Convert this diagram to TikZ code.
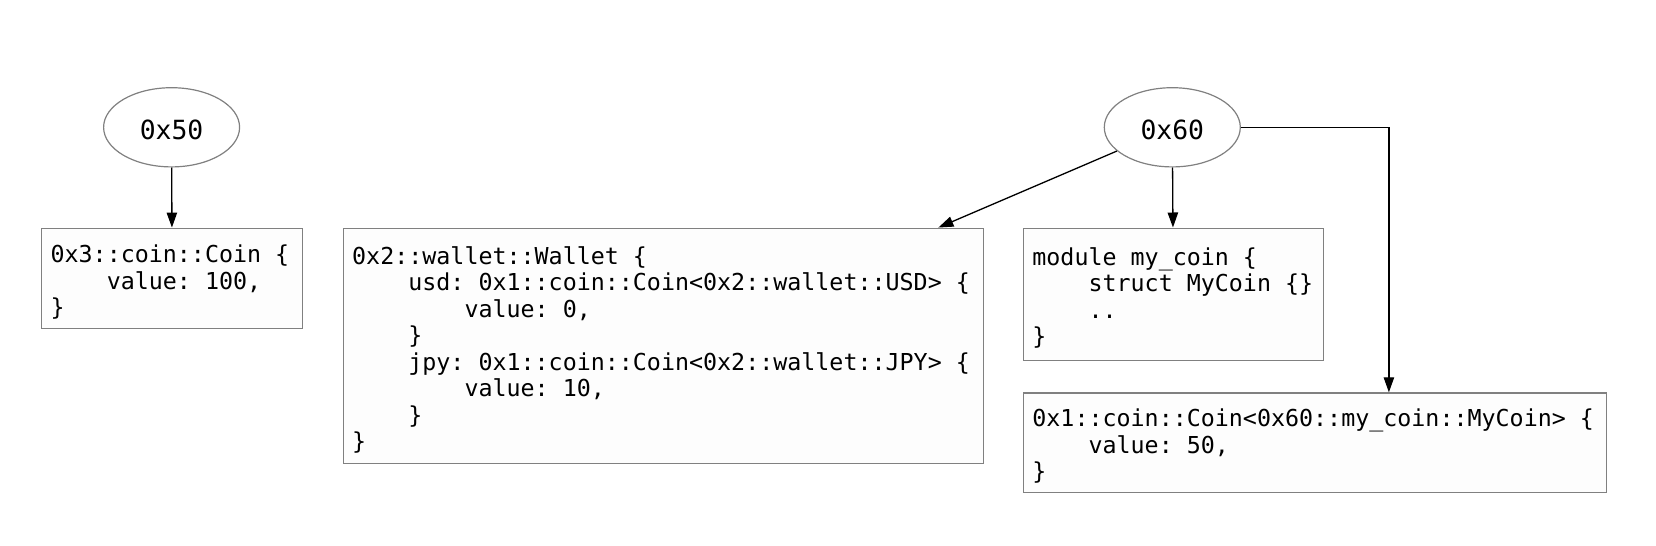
\documentclass[tikz,border=0pt]{standalone}
\usepackage{fontspec}
\newfontfamily\codefont{DejaVu Sans Mono}
\usetikzlibrary{shapes.geometric,arrows.meta}
\definecolor{bordergray}{HTML}{808080}
\definecolor{boxfill}{HTML}{FDFDFD}
\newcommand\I{\phantom{0000}}
\newcommand\firstln{\spaceskip=0.602em\relax\xspaceskip=0.602em\relax\rule{0pt}{12.8pt}}
\begin{document}
\begin{tikzpicture}[x=0.5pt,y=-0.5pt,
  addr/.style={ellipse, draw=bordergray, fill=white, line width=0.6pt, inner sep=0pt,
    minimum width=68pt, minimum height=39.6pt, text height=11.7pt, text depth=0pt,
    font=\codefont\fontsize{13.2pt}{15pt}\selectfont},
  codebox/.style={rectangle, draw=bordergray, fill=boxfill, line width=0.6pt,
    inner xsep=4.5pt, inner ysep=0pt, align=left,
    font=\codefont\fontsize{11.66pt}{13.25pt}\selectfont},
  link/.style={-{Triangle[length=7.5pt,width=5.2pt]}, line width=0.65pt, black}]
\useasboundingbox (0,0) rectangle (1656,546);

\node[addr] (o50) at (171.6,127.3) {0x50};
\node[addr] (o60) at (1172.3,127.3) {0x60};

\node[codebox, text width=121.5pt, minimum height=50.15pt] (c3) at (172.1,278.3)
  {\firstln 0x3::coin::Coin \{\\\I value: 100,\\\}};

\node[codebox, text width=311pt, minimum height=117.75pt] (wallet) at (663.2,345.9)
  {\firstln 0x2::wallet::Wallet \{\\
   \I usd: 0x1::coin::Coin<0x2::wallet::USD> \{\\
   \I\I value: 0,\\
   \I \}\\
   \I jpy: 0x1::coin::Coin<0x2::wallet::JPY> \{\\
   \I\I value: 10,\\
   \I \}\\
   \}};

\node[codebox, text width=141pt, minimum height=66pt] (module) at (1173.4,294.1)
  {\firstln module my\_coin \{\\\I struct MyCoin \{\}\\\I ..\\\}};

\node[codebox, text width=282.5pt, minimum height=49.6pt] (mycoin) at (1314.9,442.5)
  {\firstln 0x1::coin::Coin<0x60::my\_coin::MyCoin> \{\\\I value: 50,\\\}};

\draw[link] (o50) -- (c3);
\draw[link] (o60) -- ([xshift=-22.7pt]wallet.north east);
\draw[link] (o60) -- (module);
\draw[link] (o60.east) -| ([xshift=37pt]mycoin.north);
\end{tikzpicture}
\end{document}
